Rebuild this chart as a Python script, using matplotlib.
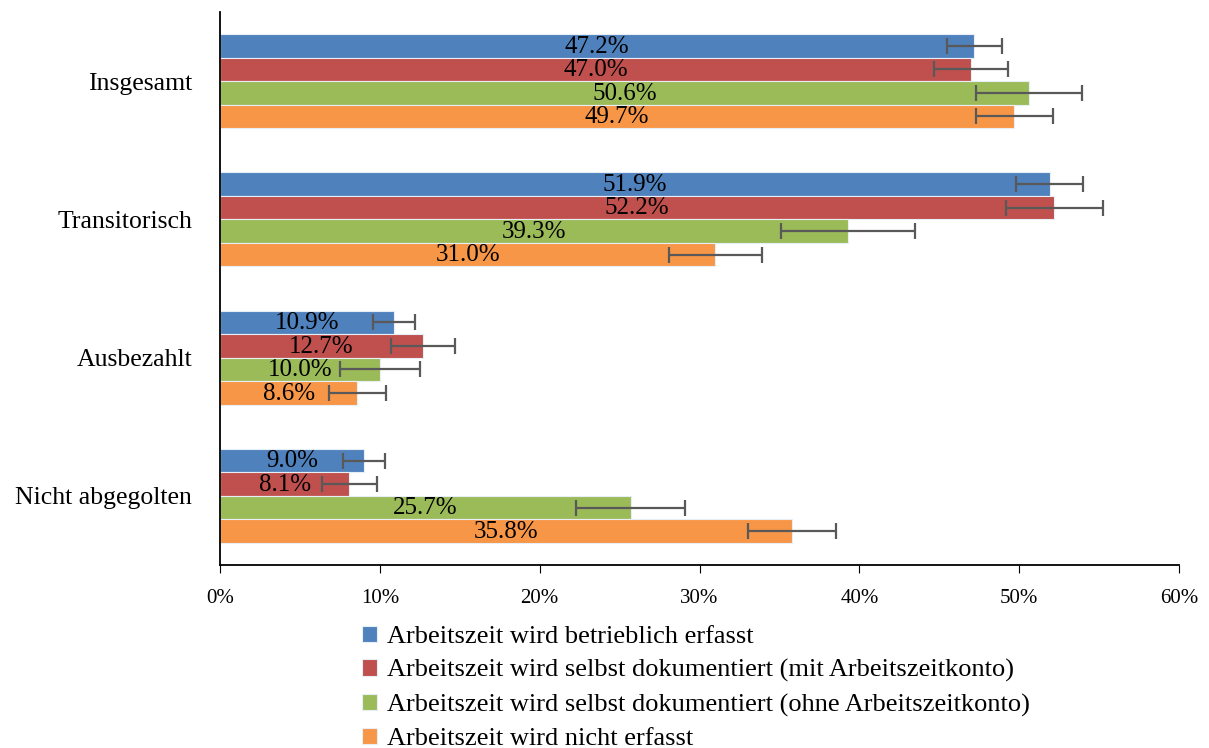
import numpy as np
import matplotlib.pyplot as plt

plt.rcParams['font.family'] = ['Liberation Serif', 'DejaVu Serif']

categories = ["Insgesamt", "Transitorisch", "Ausbezahlt", "Nicht abgegolten"]
series = [
    "Arbeitszeit wird betrieblich erfasst",
    "Arbeitszeit wird selbst dokumentiert (mit Arbeitszeitkonto)",
    "Arbeitszeit wird selbst dokumentiert (ohne Arbeitszeitkonto)",
    "Arbeitszeit wird nicht erfasst",
]
# values per series, in category order
betrieblich = [47.2, 51.9, 10.9, 9.0]
mit_konto = [47.0, 52.2, 12.7, 8.1]
ohne_konto = [50.6, 39.3, 10.0, 25.7]
nicht_erfasst = [49.7, 31.0, 8.6, 35.8]
# error half widths
err_betrieblich = [1.7, 2.1, 1.3, 1.3]
err_mit_konto = [2.3, 3.05, 2.0, 1.7]
err_ohne_konto = [3.3, 4.2, 2.5, 3.4]
err_nicht_erfasst = [2.4, 2.9, 1.8, 2.75]

values = [betrieblich, mit_konto, ohne_konto, nicht_erfasst]
errors = [err_betrieblich, err_mit_konto, err_ohne_konto, err_nicht_erfasst]
colors = ["#4F81BD", "#C0504D", "#9BBB59", "#F79646"]

fig = plt.figure(figsize=(12.09, 7.48), dpi=100)
ax = fig.add_axes([220 / 1209, 1 - 565 / 748, 959 / 1209, 553 / 748])

y = np.arange(len(categories))
h = 0.17
handles = []
for i in range(4):
    pos = y + (i - 1.5) * h
    b = ax.barh(pos, values[i], height=h, color=colors[i], edgecolor="#e8eef5",
                linewidth=0.8, label=series[i])
    handles.append(b)
    ax.errorbar(values[i], pos, xerr=errors[i], fmt="none", ecolor="#595959",
                elinewidth=1.6, capsize=6, capthick=1.6)
    for p, v in zip(pos, values[i]):
        ax.text(v / 2, p + 0.005, f"{v:.1f}%", ha="center", va="center", fontsize=18)

ax.set_xlim(0, 60)
ax.set_ylim(3.5, -0.5)
ax.set_xticks(range(0, 61, 10))
ax.set_xticklabels([f"{t}%" for t in range(0, 61, 10)], fontsize=15)
ax.set_yticks(y)
ax.set_yticklabels(categories, fontsize=18.5)
ax.tick_params(axis="y", length=0, pad=20)
ax.tick_params(axis="x", length=6, direction="out", pad=11)
ax.spines["top"].set_visible(False)
ax.spines["right"].set_visible(False)
ax.spines["left"].set_linewidth(1.3)
ax.spines["bottom"].set_linewidth(1.3)

fig.legend(handles=handles, labels=series, loc="upper left",
           bbox_to_anchor=(351 / 1209, 1 - 615 / 748), frameon=False,
           fontsize=19, handlelength=0.6, handleheight=0.6, handletextpad=0.35,
           labelspacing=0.42, borderaxespad=0)

fig.savefig("out.png", dpi=100)
